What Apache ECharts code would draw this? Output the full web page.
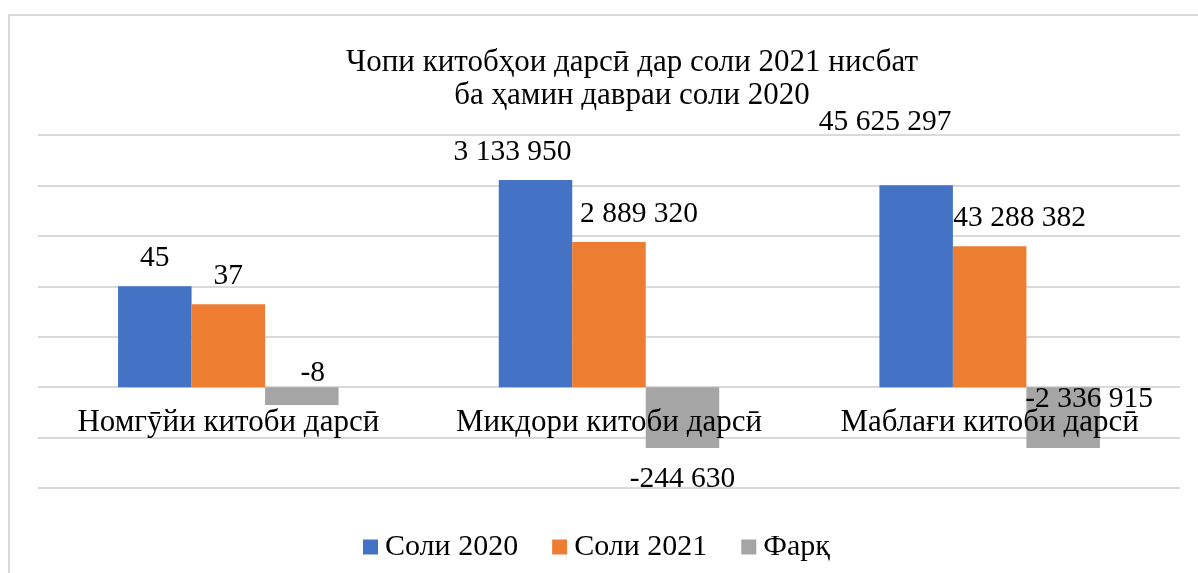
<!DOCTYPE html>
<html>
<head>
<meta charset="utf-8">
<script src="https://cdn.jsdelivr.net/npm/echarts@6/dist/echarts.min.js"></script>
<style>
html,body{margin:0;padding:0;background:#fff;}
#chart{width:1198px;height:573px;}
</style>
</head>
<body>
<div id="chart"></div>
<script>
// ---- data ----
const titleLines = ['Чопи китобҳои дарсӣ дар соли 2021 нисбат', 'ба ҳамин давраи соли 2020'];
const categories = ['Номгӯйи китоби дарсӣ', 'Микдори китоби дарсӣ', 'Маблағи китоби дарсӣ'];
const seriesNames = ['Соли 2020', 'Соли 2021', 'Фарқ'];
// values printed on the data labels
const values2020 = [45, 3133950, 45625297];
const values2021 = [37, 2889320, 43288382];
const valuesDiff = [-8, -244630, -2336915];
// bar lengths as drawn in the picture (chart units, one gridline step = 22.5)
const bars2020 = [45, 92.4, 90.1];
const bars2021 = [37, 64.8, 62.9];
const barsDiff = [-8, -27.2, -27.2];

// ---- layout / style ----
const FONT = '"Liberation Serif", "DejaVu Serif", serif';
const colors = ['#4472C4', '#ED7D31', '#A5A5A5'];
const labelOffsets = [
  [[0, 0], [-23, 0], [-31, -35]],
  [[0, 0], [30, 0], [30, 0]],
  [[11, -60], [0, 3], [26, -77]]
];

function fmt(v) {
  const s = Math.abs(v).toString().replace(/\B(?=(\d{3})+(?!\d))/g, ' ');
  return (v < 0 ? '-' : '') + s;
}

const barSets = [bars2020, bars2021, barsDiff];
const valueSets = [values2020, values2021, valuesDiff];

const series = barSets.map((bars, si) => ({
  name: seriesNames[si],
  type: 'bar',
  barWidth: 73.5,
  barGap: '0%',
  itemStyle: { color: colors[si] },
  data: bars.map((b, ci) => ({
    value: b,
    label: {
      show: true,
      position: b >= 0 ? 'top' : 'bottom',
      distance: 13,
      offset: labelOffsets[si][ci],
      formatter: () => fmt(valueSets[si][ci]),
      fontFamily: FONT,
      fontSize: 29.5,
      color: '#000'
    }
  }))
}));

const chart = echarts.init(document.getElementById('chart'), null, { renderer: 'canvas' });
chart.setOption({
  animation: false,
  backgroundColor: '#fff',
  color: colors,
  graphic: [{
    type: 'rect',
    shape: { x: 9, y: 15, width: 1250, height: 650 },
    style: { fill: 'none', stroke: '#D9D9D9', lineWidth: 2 },
    z: -1
  }],
  title: {
    text: titleLines.join('\n'),
    left: 627,
    top: 41,
    textAlign: 'center',
    textStyle: { fontFamily: FONT, fontSize: 31, fontWeight: 'normal', color: '#000', lineHeight: 33 }
  },
  legend: {
    data: seriesNames,
    top: 527,
    left: 358,
    itemWidth: 15,
    itemHeight: 15,
    itemGap: 34,
    icon: 'rect',
    textStyle: { fontFamily: FONT, fontSize: 30, color: '#000', padding: [0, 0, 0, 2] }
  },
  grid: { left: 38, right: 18, top: 135, bottom: 85, containLabel: false },
  xAxis: {
    type: 'category',
    data: categories,
    z: 5,
    offset: -101,
    axisLine: { show: false },
    axisTick: { show: false },
    axisLabel: { interval: 0, hideOverlap: false, fontFamily: FONT, fontSize: 31, color: '#000', margin: 20 }
  },
  yAxis: {
    type: 'value',
    min: -45,
    max: 112.5,
    interval: 22.5,
    axisLabel: { show: false },
    axisLine: { show: false },
    axisTick: { show: false },
    splitLine: { lineStyle: { color: '#D9D9D9', width: 2 } }
  },
  series: series
});
</script>
</body>
</html>
